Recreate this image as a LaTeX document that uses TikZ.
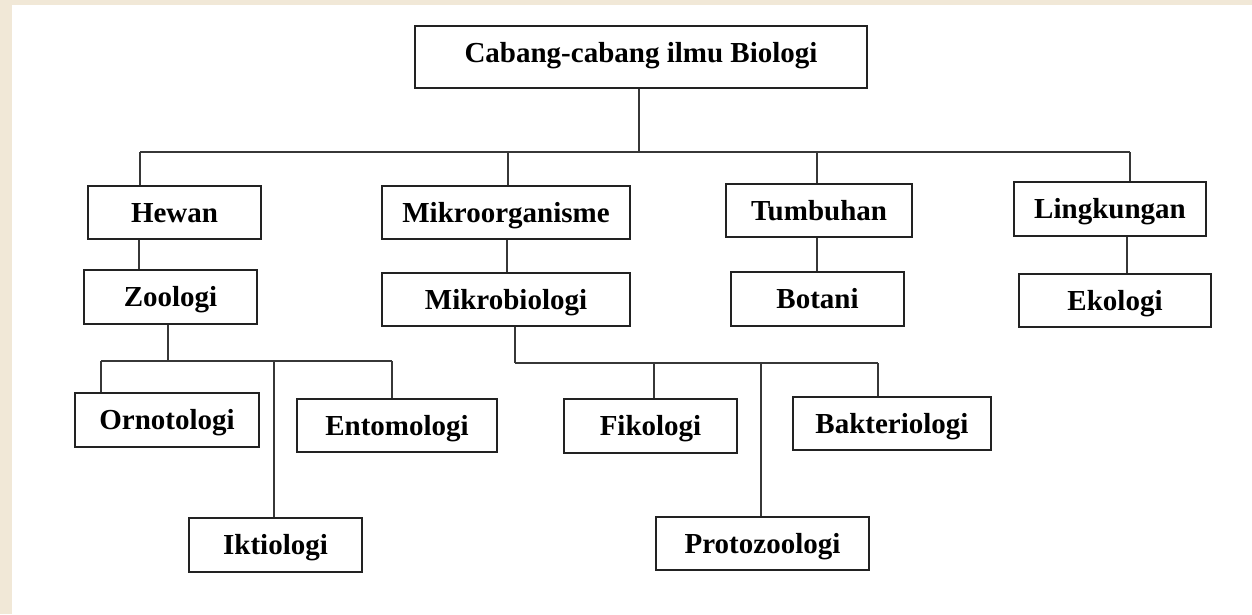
\documentclass[tikz,border=0pt]{standalone}
\usepackage{fontspec}
\setmainfont{Liberation Serif}
\definecolor{beige}{RGB}{241,232,215}
\definecolor{boxline}{RGB}{34,34,34}
\definecolor{conline}{RGB}{55,55,55}
\tikzset{
  box/.style={draw=boxline, line width=1.3pt, fill=white, inner sep=0pt,
    font=\bfseries\fontsize{29}{34}\selectfont, text height=22pt, text depth=3pt, align=center},
  con/.style={draw=conline, line width=1.3pt}
}
\begin{document}
\begin{tikzpicture}[x=1pt,y=-1pt]
\useasboundingbox (0,0) rectangle (1252,614);
\fill[beige] (0,0) rectangle (1252,614);
\fill[white] (12,5) rectangle (1252,614);

% boxes
\node[box, minimum width=452pt, minimum height=62pt, text height=19pt, text depth=9pt] (top) at (641,57) {Cabang-cabang ilmu Biologi};
\node[box, minimum width=173pt, minimum height=53pt] (hewan) at (174.5,212.5) {Hewan};
\node[box, minimum width=248pt, minimum height=53pt] (mikro) at (506,212.5) {Mikroorganisme};
\node[box, minimum width=186pt, minimum height=53pt] (tumb) at (819,210.5) {Tumbuhan};
\node[box, minimum width=192pt, minimum height=54pt] (ling) at (1110,209) {Lingkungan};
\node[box, minimum width=173pt, minimum height=54pt] (zoo) at (170.5,297) {Zoologi};
\node[box, minimum width=248pt, minimum height=53pt] (mikb) at (506,299.5) {Mikrobiologi};
\node[box, minimum width=173pt, minimum height=54pt] (bot) at (817.5,299) {Botani};
\node[box, minimum width=192pt, minimum height=53pt] (eko) at (1115,300.5) {Ekologi};
\node[box, minimum width=184pt, minimum height=54pt] (orn) at (167,420) {Ornotologi};
\node[box, minimum width=200pt, minimum height=53pt] (ento) at (397,425.5) {Entomologi};
\node[box, minimum width=173pt, minimum height=54pt] (ikt) at (275.5,545) {Iktiologi};
\node[box, minimum width=173pt, minimum height=54pt] (fik) at (650.5,426) {Fikologi};
\node[box, minimum width=198pt, minimum height=53pt] (bak) at (892,423.5) {Bakteriologi};
\node[box, minimum width=213pt, minimum height=53pt] (prot) at (762.5,543.5) {Protozoologi};

% top bus
\coordinate (b0) at (639,152);
\coordinate (bL) at (140,152);
\coordinate (bM) at (508,152);
\coordinate (bT) at (817,152);
\coordinate (bR) at (1130,152);
\draw[con] (b0 |- top.south) -- (b0);
\draw[con] (bL) -- (bR);
\draw[con] (bL) -- (bL |- hewan.north);
\draw[con] (bM) -- (bM |- mikro.north);
\draw[con] (bT) -- (bT |- tumb.north);
\draw[con] (bR) -- (bR |- ling.north);

% second level links
\coordinate (h1) at (139,0);
\coordinate (m1) at (507,0);
\coordinate (t1) at (817,0);
\coordinate (l1) at (1127,0);
\draw[con] (h1 |- hewan.south) -- (h1 |- zoo.north);
\draw[con] (m1 |- mikro.south) -- (m1 |- mikb.north);
\draw[con] (t1 |- tumb.south) -- (t1 |- bot.north);
\draw[con] (l1 |- ling.south) -- (l1 |- eko.north);

% zoology bus
\coordinate (z0) at (168,361);
\coordinate (zL) at (101,361);
\coordinate (zI) at (274,361);
\coordinate (zR) at (392,361);
\draw[con] (z0 |- zoo.south) -- (z0);
\draw[con] (zL) -- (zR);
\draw[con] (zL) -- (zL |- orn.north);
\draw[con] (zI) -- (zI |- ikt.north);
\draw[con] (zR) -- (zR |- ento.north);

% microbiology bus
\coordinate (k0) at (515,363);
\coordinate (kF) at (654,363);
\coordinate (kP) at (761,363);
\coordinate (kR) at (878,363);
\draw[con] (k0 |- mikb.south) -- (k0);
\draw[con] (k0) -- (kR);
\draw[con] (kF) -- (kF |- fik.north);
\draw[con] (kP) -- (kP |- prot.north);
\draw[con] (kR) -- (kR |- bak.north);
\end{tikzpicture}
\end{document}
